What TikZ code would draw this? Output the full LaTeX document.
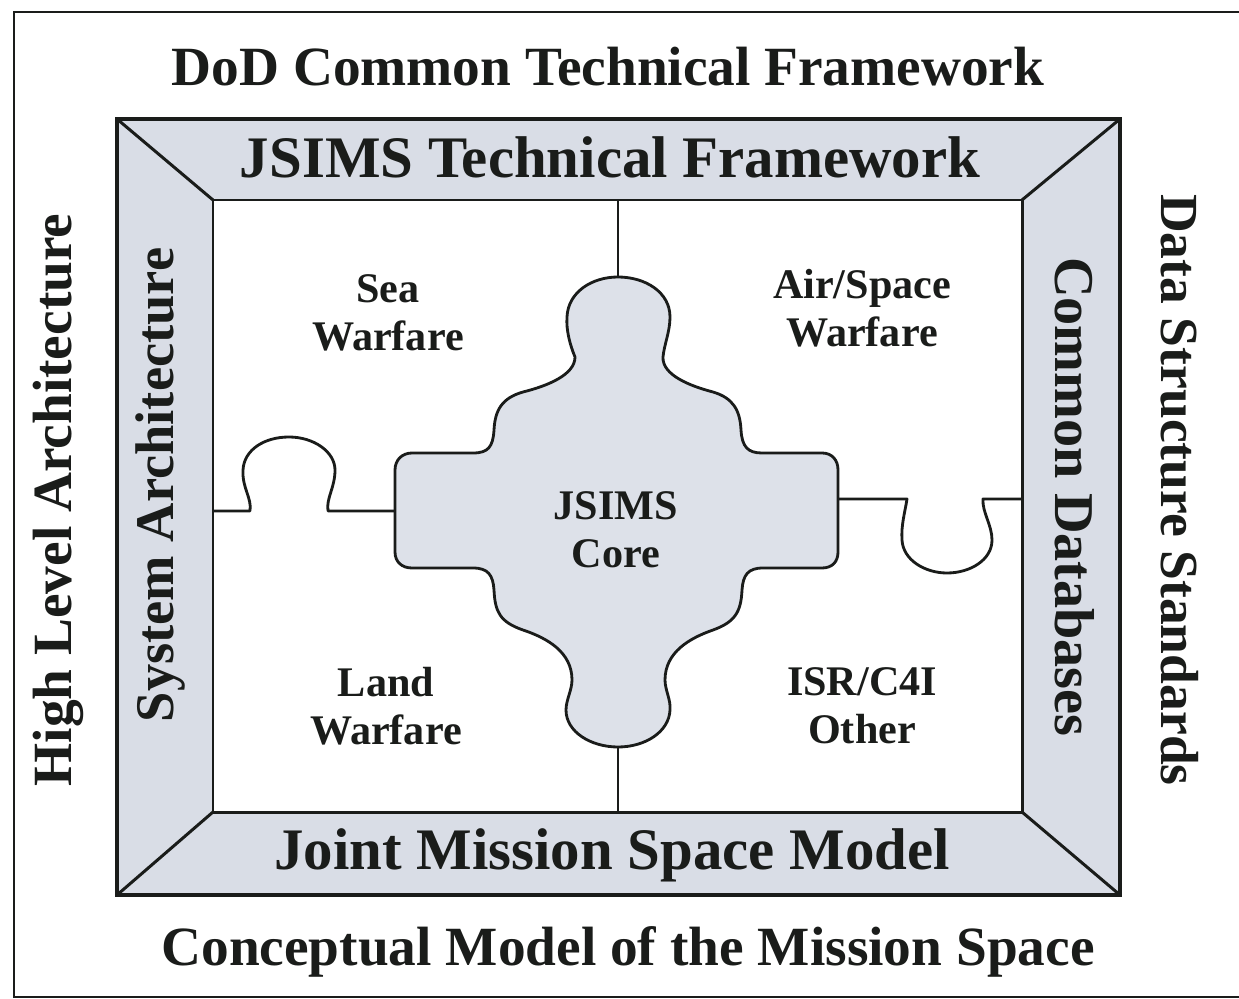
\documentclass[tikz,border=0pt]{standalone}
\usepackage{fontspec}
\setmainfont{Liberation Serif}
\definecolor{framefill}{HTML}{D9DDE6}
\definecolor{corefill}{HTML}{DDE1E9}
\definecolor{ink}{HTML}{1A1C1A}
\begin{document}
\begin{tikzpicture}[x=0.02cm,y=-0.02cm,
  bigtitle/.style={font=\bfseries\fontsize{31.5}{36}\selectfont,text=ink,inner sep=0pt},
  bandtitle/.style={font=\bfseries\fontsize{33.5}{38}\selectfont,text=ink,inner sep=0pt},
  region/.style={font=\bfseries\fontsize{24}{27.5}\selectfont,text=ink,align=center,inner sep=0pt},
  puzzle/.style={line width=1.6pt,draw=ink,line join=round},
  bevel/.style={line width=1.7pt,draw=ink}]
\useasboundingbox (0,0) rectangle (1239,999);
% page border
\draw[line width=1.2pt,draw=ink] (14,12) rectangle (1240,997);
% frame
\coordinate (oTL) at (117,119);
\coordinate (oTR) at (1120,119);
\coordinate (oBR) at (1120,895);
\coordinate (oBL) at (117,895);
\coordinate (iTL) at (213,200);
\coordinate (iTR) at (1022,200);
\coordinate (iBR) at (1022,812);
\coordinate (iBL) at (213,812);
\fill[framefill] (oTL) rectangle (oBR);
\fill[white] (iTL) rectangle (iBR);
\draw[bevel] (oTL) -- (iTL);
\draw[bevel] (oTR) -- (iTR);
\draw[bevel] (oBR) -- (iBR);
\draw[bevel] (oBL) -- (iBL);
\draw[line width=1.7pt,draw=ink] (iTL) rectangle (iBR);
\draw[line width=2.8pt,draw=ink] (oTL) rectangle (oBR);
% core
\path[fill=corefill,puzzle] (575,357)
 .. controls (570,345) and (566,330) .. (567,317)
 .. controls (568,292) and (592,277) .. (618,277)
 .. controls (645,277) and (670,292) .. (670,317)
 .. controls (670,332) and (664,345) .. (663,357)
 .. controls (662,375) and (690,386) .. (713,392)
 .. controls (733,398) and (740,410) .. (741,430)
 .. controls (742,447) and (748,453) .. (762,453)
 -- (822,453)
 .. controls (832,453) and (838,460) .. (838,470)
 -- (838,552)
 .. controls (838,562) and (832,568) .. (822,568)
 -- (763,568)
 .. controls (748,568) and (743,575) .. (742,590)
 .. controls (741,612) and (735,622) .. (713,630)
 .. controls (690,638) and (665,652) .. (665,680)
 .. controls (665,690) and (671,700) .. (670,710)
 .. controls (669,732) and (645,747) .. (618,747)
 .. controls (591,747) and (566,732) .. (566,710)
 .. controls (566,700) and (572,690) .. (572,680)
 .. controls (572,652) and (547,638) .. (523,630)
 .. controls (500,622) and (495,612) .. (494,590)
 .. controls (493,575) and (488,568) .. (473,568)
 -- (412,568)
 .. controls (402,568) and (395,562) .. (395,552)
 -- (395,470)
 .. controls (395,460) and (402,453) .. (412,453)
 -- (473,453)
 .. controls (488,453) and (493,447) .. (494,430)
 .. controls (495,410) and (502,398) .. (523,392)
 .. controls (547,386) and (575,375) .. (575,357) -- cycle;
% connector coordinates
\coordinate (topIn) at (618,200);
\coordinate (coreTop) at (618,277);
\coordinate (botIn) at (618,812);
\coordinate (coreBot) at (618,747);
\coordinate (leftIn) at (213,511);
\coordinate (coreLeft) at (395,511);
\coordinate (rightIn) at (1022,499);
\coordinate (coreRight) at (838,499);
\draw[puzzle] (topIn) -- (coreTop);
\draw[puzzle] (coreBot) -- (botIn);
\draw[puzzle] (leftIn) -- (250,511)
 .. controls (252,498) and (242,488) .. (243,470)
 .. controls (244,450) and (264,437) .. (289,437)
 .. controls (314,437) and (335,452) .. (335,470)
 .. controls (335,488) and (326,498) .. (328,511) -- (coreLeft);
\draw[puzzle] (coreRight) -- (907,499)
 .. controls (905,512) and (901,525) .. (902,540)
 .. controls (903,560) and (925,573) .. (947,573)
 .. controls (970,573) and (992,560) .. (992,540)
 .. controls (992,525) and (982,512) .. (983,499) -- (rightIn);
% texts
\node[bigtitle] (dod) at (608,67) {DoD Common Technical Framework};
\node[bigtitle] (cmms) at (628,952) {Conceptual Model of the Mission Space};
\node[bigtitle,rotate=90] (hla) at (58,500) {High Level Architecture};
\node[bigtitle,font=\bfseries\fontsize{30.5}{36}\selectfont,rotate=-90] (dss) at (1180,490) {Data Structure Standards};
\node[bandtitle] (jtf) at (610,157) {JSIMS Technical Framework};
\node[bandtitle] (jmsm) at (612,855) {Joint Mission Space Model};
\node[bandtitle,font=\bfseries\fontsize{31}{38}\selectfont,rotate=90] (sa) at (160,485) {System Architecture};
\node[bandtitle,font=\bfseries\fontsize{32}{38}\selectfont,rotate=-90] (cdb) at (1075,497) {Common Databases};
\node[region] (sea) at (388,313) {Sea\\Warfare};
\node[region] (air) at (862,308) {Air/Space\\Warfare};
\node[region] (land) at (386,706) {Land\\Warfare};
\node[region] (isr) at (862,706) {ISR/C4I\\Other};
\node[region] (core) at (616,530) {JSIMS\\Core};
\end{tikzpicture}
\end{document}
